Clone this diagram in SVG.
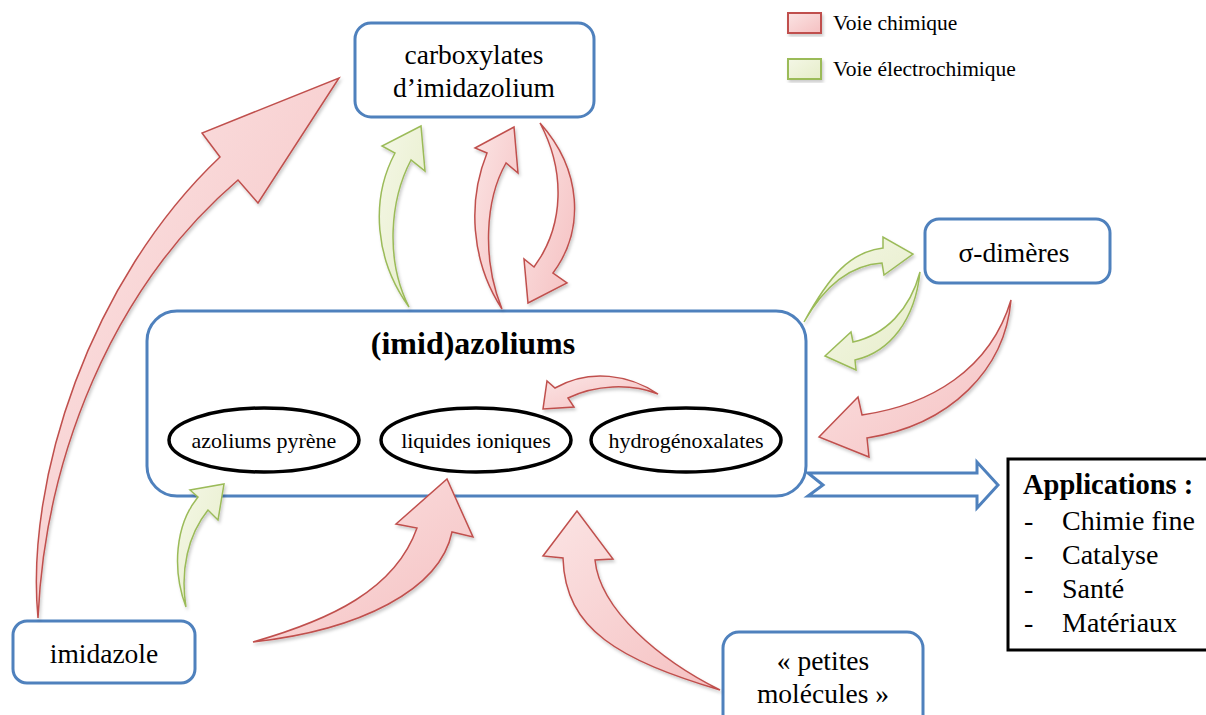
<svg xmlns="http://www.w3.org/2000/svg" width="1206" height="715" viewBox="0 0 1206 715">
<defs>
<linearGradient id="gRed" x1="0" y1="0" x2="1" y2="1">
<stop offset="0" stop-color="#fbe4e4"/>
<stop offset="1" stop-color="#f5c0c1"/>
</linearGradient>
<linearGradient id="gGreen" x1="0" y1="0" x2="1" y2="1">
<stop offset="0" stop-color="#f4f7e6"/>
<stop offset="1" stop-color="#e6edc9"/>
</linearGradient>
<filter id="sh" x="-20%" y="-20%" width="140%" height="140%">
<feDropShadow dx="1.5" dy="2.5" stdDeviation="1.8" flood-color="#000" flood-opacity="0.2"/>
</filter>
<style>
.box{fill:#fff;stroke:#4f81bd;stroke-width:3}
.ell{fill:#fff;stroke:#000;stroke-width:3.5}
.red{fill:url(#gRed);stroke:#c0504d;stroke-width:1.5;stroke-linejoin:miter;filter:url(#sh)}
.green{fill:url(#gGreen);stroke:#9bbb59;stroke-width:1.5;stroke-linejoin:miter;filter:url(#sh)}
.t{font-family:"Liberation Serif","Times New Roman",serif;fill:#000}
.big{font-size:27.5px}
.mid{font-size:22px}
.leg{font-size:21.5px}
</style>
</defs>
<rect width="1206" height="715" fill="#fff"/>

<g id="legend">
<rect x="788" y="13" width="33" height="20" fill="url(#gRed)" stroke="#c0504d" stroke-width="2" filter="url(#sh)"/>
<text class="t leg" x="833" y="30">Voie chimique</text>
<rect x="788" y="59" width="33" height="20" fill="url(#gGreen)" stroke="#9bbb59" stroke-width="2" filter="url(#sh)"/>
<text class="t leg" x="833" y="76">Voie électrochimique</text>
</g>

<g id="node-carboxylates">
<rect class="box" x="355" y="23" width="239" height="94" rx="16"/>
<text class="t big" x="474" y="64" text-anchor="middle">carboxylates</text>
<text class="t big" x="474" y="97" text-anchor="middle">d’imidazolium</text>
</g>

<g id="node-dimeres">
<rect class="box" x="925" y="219" width="185" height="64" rx="14"/>
<text class="t big" x="1014" y="262" text-anchor="middle">σ-dimères</text>
</g>

<g id="node-azoliums">
<rect class="box" x="147" y="311" width="659" height="185" rx="30"/>
<text class="t" x="473" y="354" text-anchor="middle" font-size="32" font-weight="bold">(imid)azoliums</text>
</g>

<g id="node-azoliums-pyrene">
<ellipse class="ell" cx="264" cy="440" rx="95" ry="32"/>
<text class="t mid" x="264" y="448" text-anchor="middle">azoliums pyrène</text>
</g>
<g id="node-liquides-ioniques">
<ellipse class="ell" cx="476" cy="440" rx="95" ry="32"/>
<text class="t mid" x="476" y="448" text-anchor="middle">liquides ioniques</text>
</g>
<g id="node-hydrogenoxalates">
<ellipse class="ell" cx="686" cy="440" rx="95" ry="32"/>
<text class="t mid" x="686" y="448" text-anchor="middle">hydrogénoxalates</text>
</g>

<g id="node-imidazole">
<rect class="box" x="13" y="621" width="182" height="62" rx="14"/>
<text class="t big" x="104" y="663" text-anchor="middle">imidazole</text>
</g>

<g id="node-petites-molecules">
<rect class="box" x="723" y="632" width="200" height="100" rx="16"/>
<text class="t big" x="823" y="670" text-anchor="middle">« petites</text>
<text class="t big" x="823" y="703" text-anchor="middle">molécules »</text>
</g>

<g id="node-applications">
<rect x="1008" y="459" width="220" height="191" fill="#fff" stroke="#000" stroke-width="3"/>
<text class="t" x="1023" y="494" font-size="28.5" font-weight="bold">Applications :</text>
<text class="t" font-size="28">
<tspan x="1024" y="530">-</tspan><tspan x="1062" y="530">Chimie fine</tspan>
<tspan x="1024" y="564">-</tspan><tspan x="1062" y="564">Catalyse</tspan>
<tspan x="1024" y="598">-</tspan><tspan x="1062" y="598">Santé</tspan>
<tspan x="1024" y="632">-</tspan><tspan x="1062" y="632">Matériaux</tspan>
</text>
</g>

<g id="connectors">
<!-- imidazole -> carboxylates (chimique) -->
<path class="red" d="M38,618 C25,480 90,280 220,157 L202,133 L339,78 L258,203 L238,180 C110,290 45,460 38,618 Z"/>
<!-- azoliums -> carboxylates (electrochimique) -->
<path class="green" d="M409,307 C375,260 370,200 395,153 L382,146 L421,126 L425,171 L411,160 C390,200 385,260 409,307 Z"/>
<!-- azoliums -> carboxylates (chimique) -->
<path class="red" d="M502,309 C470,260 468,200 487,153 L475,148 L514,127 L518,173 L506,163 C485,200 482,260 502,309 Z"/>
<!-- carboxylates -> azoliums (chimique) -->
<path class="red" d="M540,123 C582,170 585,230 553,273 L567,283 L528,303 L524,259 L534,267 C565,225 565,170 540,123 Z"/>
<!-- azoliums -> dimeres (electrochimique) -->
<path class="green" d="M804,322 C830,275 850,252 883,248 L883,237 L913,254 L884,275 L882,263 C850,265 825,285 804,322 Z"/>
<!-- dimeres -> azoliums (electrochimique) -->
<path class="green" d="M920,272 C910,310 885,335 853,342 L851,332 L825,356 L856,370 L855,360 C890,352 915,320 920,272 Z"/>
<!-- dimeres -> azoliums (chimique) -->
<path class="red" d="M1011,300 C990,370 930,405 862,415 L858,397 L819,437 L869,457 L867,438 C950,425 1005,370 1011,300 Z"/>
<!-- hydrogenoxalates -> liquides ioniques (chimique) -->
<path class="red" d="M658,394 C630,375 590,368 555,388 L547,381 L543,409 L574,407 L568,398 C595,385 630,383 658,394 Z"/>
<!-- imidazole -> azoliums pyrene (electrochimique) -->
<path class="green" d="M186,607 C172,570 175,525 198,497 L190,490 L224,484 L218,520 L208,510 C188,535 180,570 186,607 Z"/>
<!-- imidazole -> liquides ioniques (chimique) -->
<path class="red" d="M253,642 C330,620 395,590 417,528 L396,524 L447,479 L473,537 L452,532 C440,590 360,630 253,642 Z"/>
<!-- petites molecules -> azoliums (chimique) -->
<path class="red" d="M720,690 C620,660 565,630 563,558 L543,556 L577,511 L613,559 L595,560 C600,610 660,660 720,690 Z"/>
<!-- azoliums -> applications -->
<path d="M808,473 L977,473 L977,462 L998,485 L977,508 L977,496 L808,496 L823,485 Z" fill="#fff" stroke="#4f81bd" stroke-width="3" stroke-linejoin="miter"/>
</g>
</svg>
